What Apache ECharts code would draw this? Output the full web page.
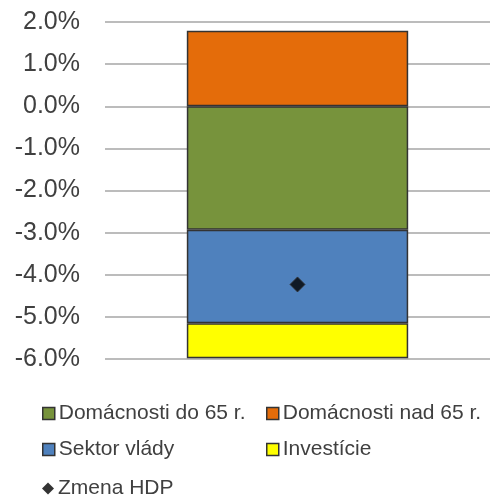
<!DOCTYPE html>
<html>
<head>
<meta charset="utf-8">
<script src="https://cdn.jsdelivr.net/npm/echarts@6/dist/echarts.min.js"></script>
<style>
  html, body { margin: 0; padding: 0; background: #fff; }
  #chart { width: 490px; height: 498px; }
</style>
</head>
<body>
<div id="chart"></div>
<script>
// hodnoty v %
const categories = ["2020"];
const domDo65 = [-2.93];
const domNad65 = [1.79];
const sektorVlady = [-2.22];
const investicie = [-0.83];
const zmenaHdp = [-4.23];

const seriesNames = ["Domácnosti do 65 r.", "Domácnosti nad 65 r.", "Sektor vlády", "Investície", "Zmena HDP"];
const colors = ["#77933C", "#E46C0A", "#4F81BD", "#FFFF00", "#000000"];

const chart = echarts.init(document.getElementById("chart"));

const legendPos = [
  { left: 42, top: 403 },
  { left: 266, top: 403 },
  { left: 42, top: 439 },
  { left: 266, top: 439 },
  { left: 42, top: 478 },
];

const legends = seriesNames.map((name, i) => ({
  data: [name],
  left: legendPos[i].left,
  top: legendPos[i].top,
  padding: 0,
  itemWidth: 12,
  itemHeight: 12,
  itemGap: 4,
  icon: i === 4 ? "diamond" : "rect",
  textStyle: { fontSize: 21, color: "#404040", fontFamily: "Liberation Sans", padding: [0, 0, 0, -1] },
  itemStyle: i === 4 ? { borderWidth: 0 } : { borderColor: "#333", borderWidth: 1.5 },
}));

const barSeries = (name, data, color) => ({
  name: name,
  type: "bar",
  stack: "total",
  data: data,
  barWidth: "57.5%",
  itemStyle: { color: color, borderColor: "#333", borderWidth: 1.5 },
});

const option = {
  animation: false,
  legend: legends,
  grid: { left: 105, right: 0, top: 22, bottom: 139 },
  xAxis: {
    type: "category",
    data: categories,
    axisLine: { show: false },
    axisTick: { show: false },
    axisLabel: { show: false },
  },
  yAxis: {
    type: "value",
    min: -6,
    max: 2,
    interval: 1,
    axisLine: { show: false },
    axisTick: { show: false },
    axisLabel: {
      margin: 25,
      fontSize: 25,
      color: "#404040",
      fontFamily: "Liberation Sans",
      formatter: (v) => v.toFixed(1) + "%",
    },
    splitLine: { lineStyle: { color: "#a6a6a6", width: 1.5 } },
  },
  series: [
    barSeries(seriesNames[0], domDo65, colors[0]),
    barSeries(seriesNames[1], domNad65, colors[1]),
    barSeries(seriesNames[2], sektorVlady, colors[2]),
    barSeries(seriesNames[3], investicie, colors[3]),
    {
      name: seriesNames[4],
      type: "scatter",
      data: zmenaHdp,
      symbol: "diamond",
      symbolSize: 15,
      itemStyle: { color: "#000", borderColor: "#333", borderWidth: 1 },
      z: 5,
    },
  ],
};

chart.setOption(option);
</script>
</body>
</html>
